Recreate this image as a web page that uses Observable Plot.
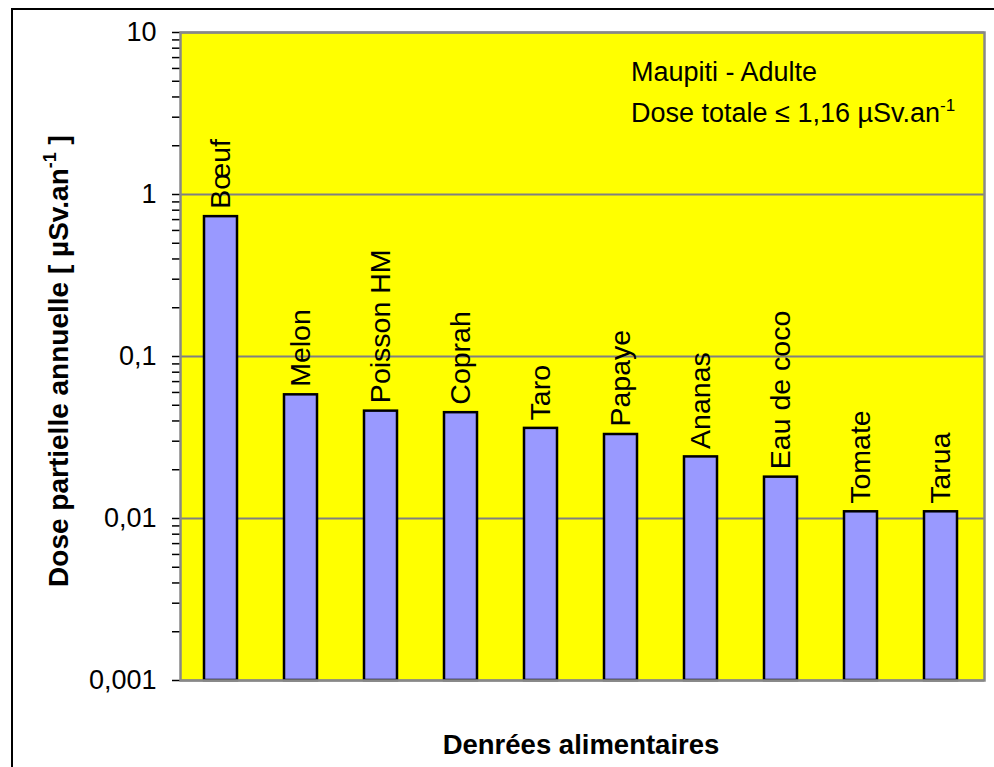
<!DOCTYPE html>
<html><head><meta charset="utf-8">
<script src="https://cdn.jsdelivr.net/npm/d3@7"></script>
<script src="https://cdn.jsdelivr.net/npm/@observablehq/plot@0.6"></script>
<style>
html,body{margin:0;padding:0;background:#fff;overflow:hidden;width:994px;height:767px;}
#border{position:absolute;left:11px;top:8px;width:1100px;height:900px;border-top:2px solid #000;border-left:2px solid #000;}
#chart{position:absolute;left:0;top:0;}
</style></head><body>
<div id="border"></div><div id="chart"></div>
<script>
const foods = ["Bœuf","Melon","Poisson HM","Coprah","Taro","Papaye","Ananas","Eau de coco","Tomate","Tarua"];
const doses = [0.73,0.058,0.046,0.045,0.036,0.033,0.024,0.018,0.011,0.011];
const majorTicks = [10,1,0.1,0.01,0.001];
const majorTickLabels = ["10","1","0,1","0,01","0,001"];
const annotationLine1 = "Maupiti - Adulte";
const annotationLine2 = "Dose totale ≤ 1,16 µSv.an";
const yLabelMain = "Dose partielle annuelle [ µSv.an";
const yLabelEnd = " ]";
const superscript = "-1";
const xLabel = "Denrées alimentaires";

const minorTicks = d3.scaleLog().domain([0.001,10]).ticks().filter(t => !majorTicks.some(m => Math.abs(m - t) < 1e-12));
const data = foods.map((f,i)=>({food:f, dose:doses[i]}));

const plot = Plot.plot({
  width:994, height:767, marginLeft:180, marginRight:10, marginTop:32, marginBottom:87,
  style:{fontFamily:"'Liberation Sans', Arial, sans-serif", fontSize:"27px", background:"transparent", overflow:"visible"},
  x:{domain:foods, paddingInner:0.59, paddingOuter:0.2925, align:0.47, axis:null},
  y:{type:"log", domain:[0.001,10], label:null},
  marks:[
    Plot.frame({fill:"#ffff00"}),
    Plot.gridY(majorTicks, {stroke:"#808080", strokeOpacity:1, strokeWidth:2}),
    Plot.axisY(minorTicks, {tickSize:8, tickFormat:()=>"", stroke:"#000", strokeWidth:1.5, label:null}),
    Plot.axisY(majorTicks, {tickSize:8, tickPadding:16, tickFormat:(d)=>majorTickLabels[majorTicks.indexOf(d)], stroke:"#000", strokeWidth:1.5, fill:"#000", fontSize:27, label:null}),
    Plot.barY(data, {x:"food", y1:0.001, y2:"dose", fill:"#9999ff", stroke:"#000", strokeWidth:2.5}),
    Plot.text(data, {x:"food", y:"dose", text:"food", rotate:-90, textAnchor:"start", lineAnchor:"middle", dy:-8, fontSize:28.5, fill:"#000"}),
    Plot.frame({stroke:"#888", strokeWidth:2.5})
  ]
});
document.getElementById("chart").appendChild(plot);

const svg = d3.select(plot);
const g = svg.append("g").attr("fill","#000").attr("text-anchor","start").style("font-family","'Liberation Sans', Arial, sans-serif");

// annotation
g.append("text").attr("x",631).attr("y",81).attr("font-size",27).text(annotationLine1);
const t2 = g.append("text").attr("x",631).attr("y",122).attr("font-size",27);
t2.append("tspan").text(annotationLine2);
t2.append("tspan").attr("font-size",17).attr("dy",-11).text(superscript);

// y label
const yl = g.append("text").attr("transform","translate(68,361) rotate(-90)")
  .attr("text-anchor","middle").attr("font-size",28).attr("font-weight","bold");
yl.append("tspan").text(yLabelMain);
yl.append("tspan").attr("font-size",18).attr("dy",-12).text(superscript);
yl.append("tspan").attr("dy",12).text(yLabelEnd);

// x label
g.append("text").attr("x",581).attr("y",754).attr("text-anchor","middle")
  .attr("font-size",27.5).attr("font-weight","bold").text(xLabel);
</script>
</body></html>
